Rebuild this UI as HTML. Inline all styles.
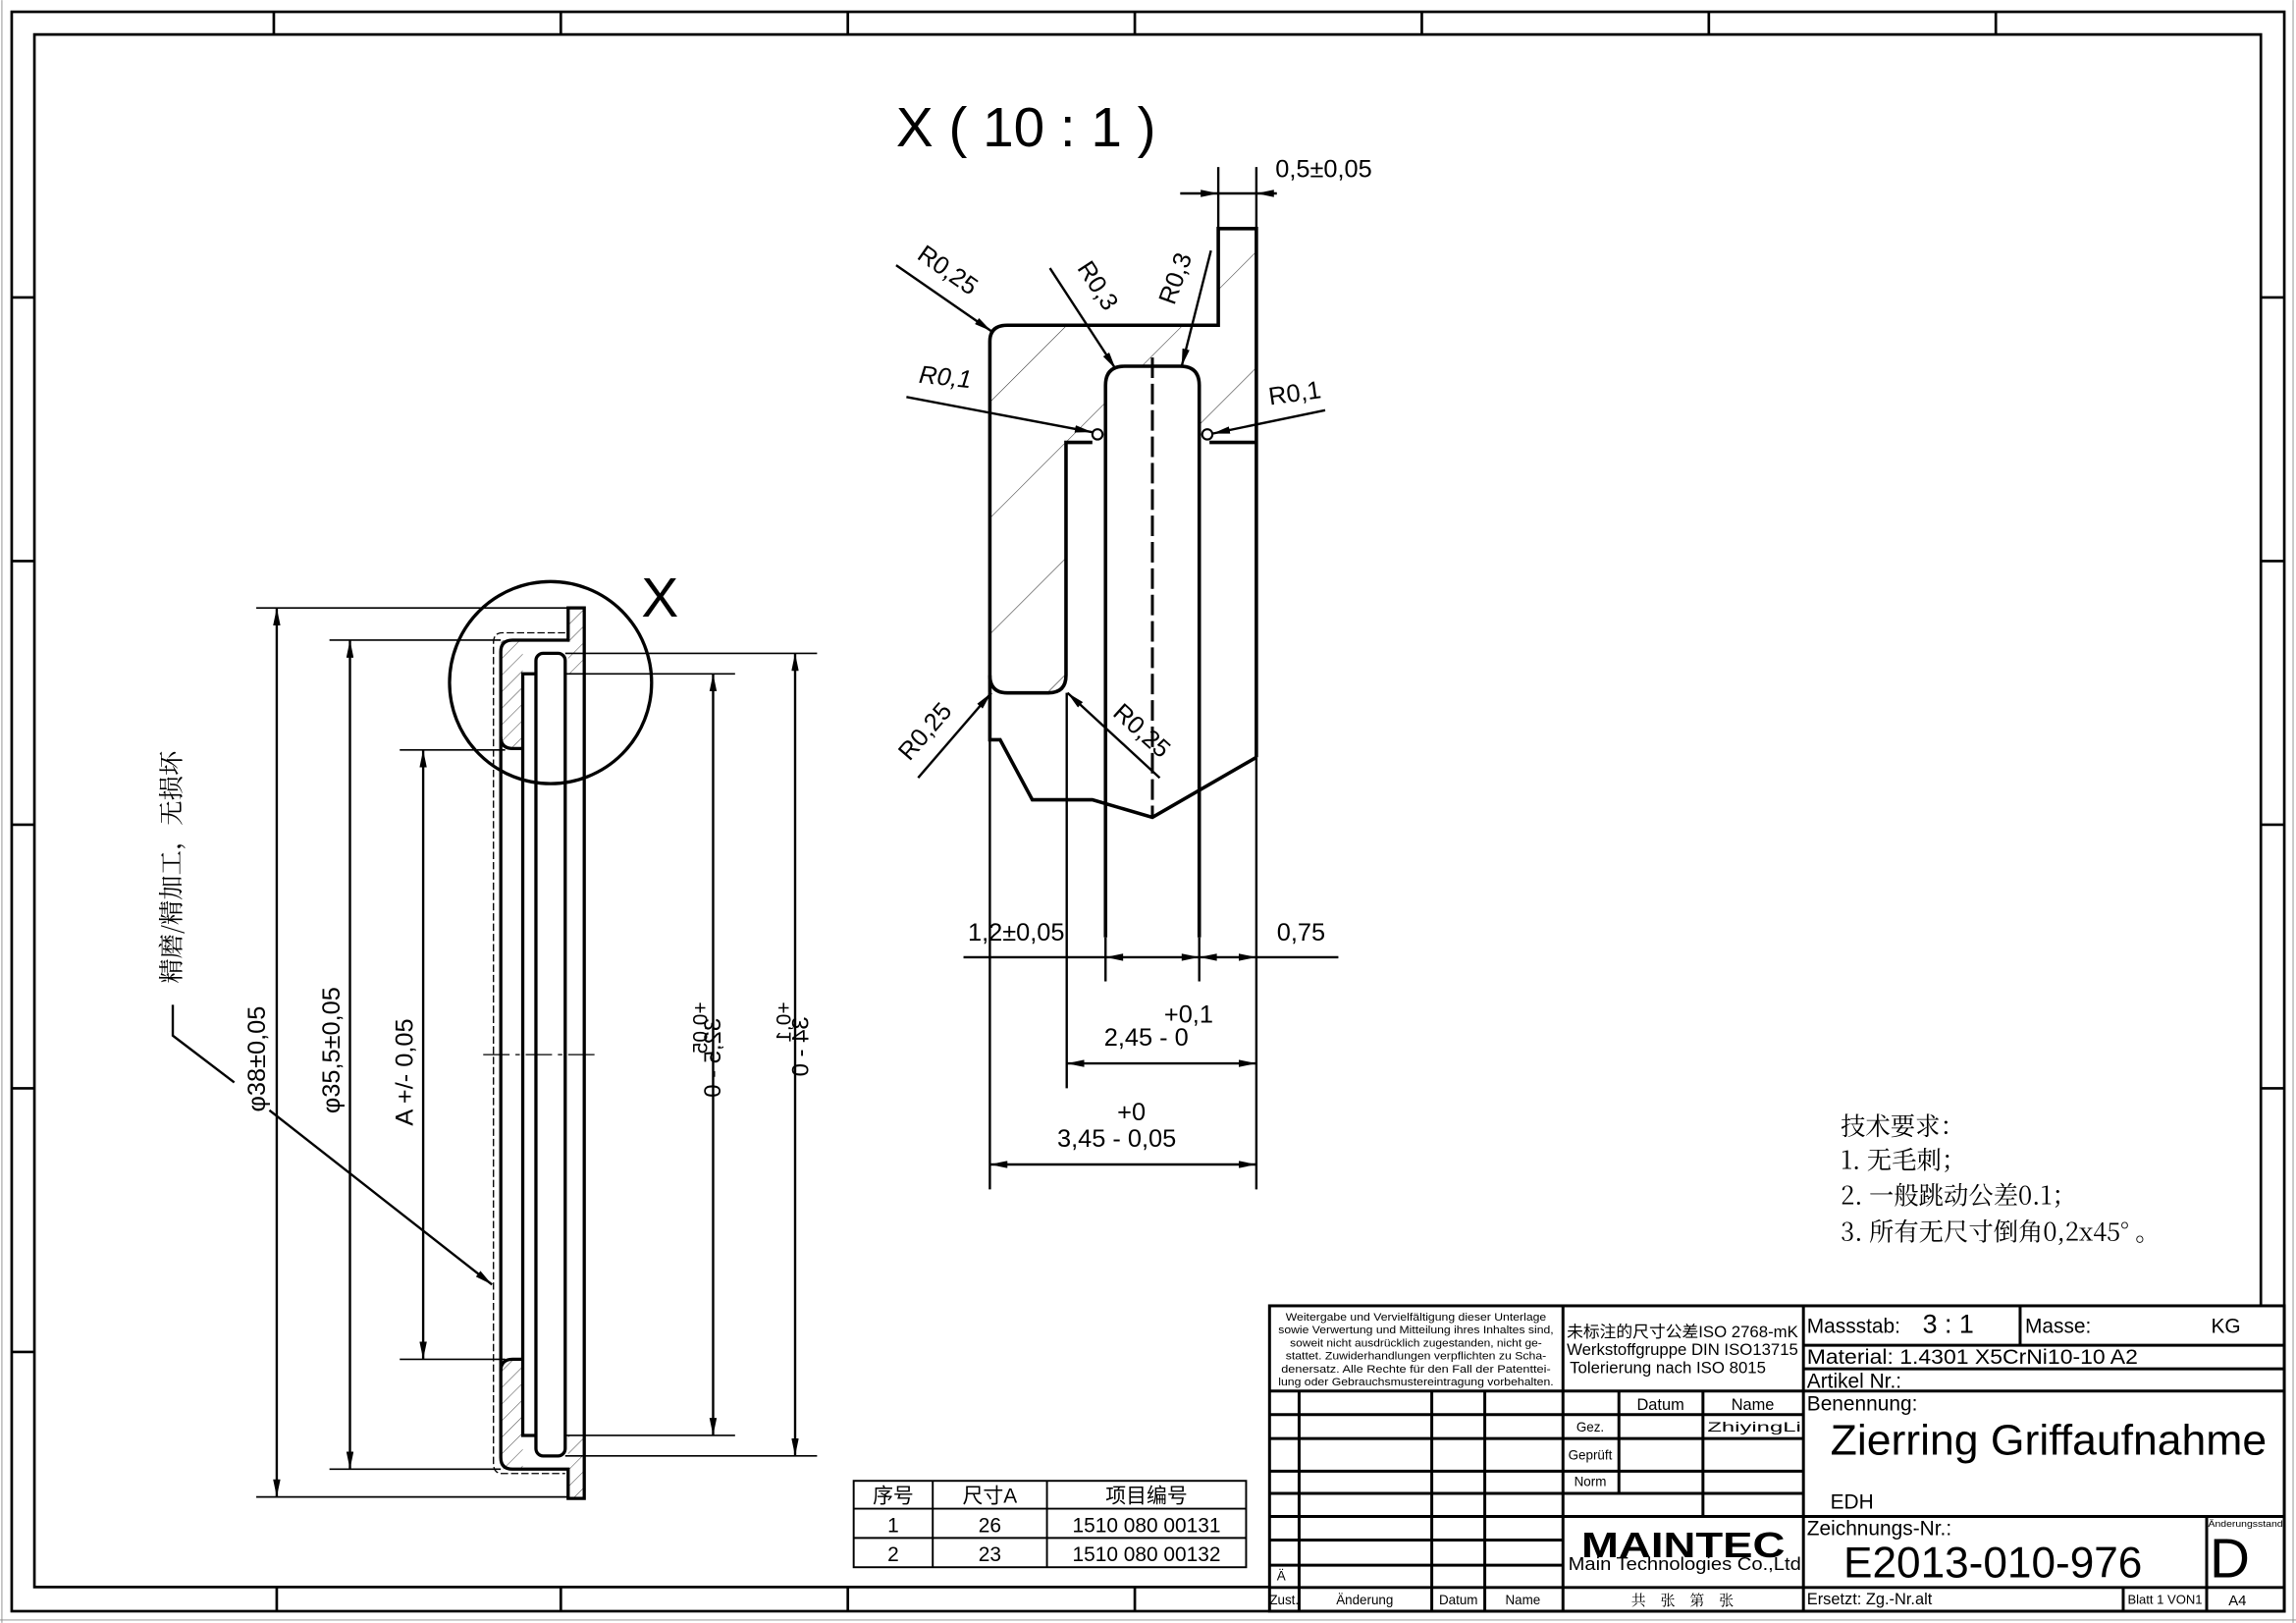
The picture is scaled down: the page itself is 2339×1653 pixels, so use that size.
<!DOCTYPE html>
<html><head><meta charset="utf-8"><style>
html,body{margin:0;padding:0;background:#fff}
svg{display:block}
text{font-family:"Liberation Sans","Noto Sans CJK SC",sans-serif;fill:#000}
.cjk{font-family:"Noto Serif CJK SC","Noto Sans CJK SC",serif}
</style></head><body>
<svg width="2339" height="1653" viewBox="0 0 1568 1108" xmlns="http://www.w3.org/2000/svg">
<defs>
<marker id="ar" viewBox="0 0 12 5" refX="12" refY="2.5" markerWidth="12" markerHeight="5" markerUnits="userSpaceOnUse" orient="auto-start-reverse"><path d="M0,0 L12,2.5 L0,5 z" fill="#000"/></marker>
<pattern id="hd" width="56" height="56" patternUnits="userSpaceOnUse" patternTransform="rotate(45)"><line x1="0" y1="0" x2="0" y2="56" stroke="#000" stroke-width="0.6"/></pattern>
<pattern id="hl" width="8" height="8" patternUnits="userSpaceOnUse" patternTransform="rotate(45)"><line x1="0" y1="0" x2="0" y2="8" stroke="#000" stroke-width="0.5"/></pattern>
</defs>
<rect width="1568" height="1108" fill="#fff"/>
<!-- page edges -->
<line x1="1.3" y1="0" x2="1.3" y2="1108" stroke="#888" stroke-width="0.6"/>
<line x1="1566" y1="0" x2="1566" y2="1108" stroke="#888" stroke-width="0.6"/>
<line x1="0" y1="1106" x2="1568" y2="1106" stroke="#888" stroke-width="0.6"/>
<!-- frames -->
<g fill="none" stroke="#000" stroke-width="1.8">
<rect x="8" y="8" width="1552" height="1092"/>
<path d="M1544,891 V23.5 H23.5 V1083.5 H867"/>
</g>
<g stroke="#000" stroke-width="1.8">
<line x1="8" y1="203" x2="23.5" y2="203"/><line x1="8" y1="383" x2="23.5" y2="383"/><line x1="8" y1="563" x2="23.5" y2="563"/><line x1="8" y1="743" x2="23.5" y2="743"/><line x1="8" y1="923" x2="23.5" y2="923"/>
<line x1="1544" y1="203" x2="1560" y2="203"/><line x1="1544" y1="383" x2="1560" y2="383"/><line x1="1544" y1="563" x2="1560" y2="563"/><line x1="1544" y1="743" x2="1560" y2="743"/>
<line x1="187" y1="8" x2="187" y2="23.5"/><line x1="383" y1="8" x2="383" y2="23.5"/><line x1="579" y1="8" x2="579" y2="23.5"/><line x1="775" y1="8" x2="775" y2="23.5"/><line x1="971" y1="8" x2="971" y2="23.5"/><line x1="1167" y1="8" x2="1167" y2="23.5"/><line x1="1363" y1="8" x2="1363" y2="23.5"/>
<line x1="189" y1="1083.5" x2="189" y2="1100"/><line x1="383" y1="1083.5" x2="383" y2="1100"/><line x1="579" y1="1083.5" x2="579" y2="1100"/><line x1="775" y1="1083.5" x2="775" y2="1100"/>
</g>

<!-- ===== LEFT VIEW ===== -->
<rect x="342" y="437" width="15" height="74" fill="url(#hl)"/>
<rect x="342" y="928" width="15" height="75" fill="url(#hl)"/>
<rect x="388" y="415" width="11" height="45" fill="url(#hl)"/>
<rect x="388" y="980" width="11" height="43" fill="url(#hl)"/>
<g fill="none" stroke="#000" stroke-width="2.2">
<path d="M388,415 H399 V1023 H388 V1003 H350 Q342,1003 342,995 V445 Q342,437 350,437 H388 Z"/>
<path d="M366,460 H357 V980 H366"/>
<path d="M342,503 Q342,511 350,511 H357"/>
<path d="M357,928 H350 Q342,928 342,936"/>
<rect x="366" y="446" width="20" height="548" rx="5"/>
<circle cx="376" cy="466" r="69"/>
</g>
<path d="M386,432 H343 Q337,432 337,439 V999 Q337,1006 343,1006 H386" fill="none" stroke="#000" stroke-width="0.9" stroke-dasharray="5,2"/>
<line x1="330" y1="720" x2="408" y2="720" stroke="#000" stroke-width="0.9" stroke-dasharray="18,4,3,4"/>
<text x="438" y="421" font-size="38">X</text>
<!-- left dims -->
<g stroke="#000" stroke-width="1.1" fill="none">
<line x1="175" y1="415" x2="388" y2="415"/><line x1="175" y1="1022" x2="388" y2="1022"/>
<line x1="225" y1="437" x2="342" y2="437"/><line x1="225" y1="1003" x2="342" y2="1003"/>
<line x1="273" y1="512" x2="345" y2="512"/><line x1="273" y1="928" x2="345" y2="928"/>
<line x1="386" y1="460" x2="502" y2="460"/><line x1="386" y1="980" x2="502" y2="980"/>
<line x1="386" y1="446" x2="558" y2="446"/><line x1="386" y1="994" x2="558" y2="994"/>
<line x1="189" y1="415" x2="189" y2="1022" marker-start="url(#ar)" marker-end="url(#ar)" stroke-width="1.6"/>
<line x1="239" y1="437" x2="239" y2="1003" marker-start="url(#ar)" marker-end="url(#ar)" stroke-width="1.6"/>
<line x1="289" y1="512" x2="289" y2="928" marker-start="url(#ar)" marker-end="url(#ar)" stroke-width="1.6"/>
<line x1="487" y1="460" x2="487" y2="980" marker-start="url(#ar)" marker-end="url(#ar)" stroke-width="1.6"/>
<line x1="543" y1="446" x2="543" y2="994" marker-start="url(#ar)" marker-end="url(#ar)" stroke-width="1.6"/>
<path d="M118,686 V707 L160,739" stroke-width="1.6"/>
<line x1="184" y1="758" x2="336" y2="877" marker-end="url(#ar)" stroke-width="1.6"/>
</g>
<text transform="translate(181,723) rotate(-90)" font-size="17" text-anchor="middle">φ38±0,05</text>
<text transform="translate(232,717) rotate(-90)" font-size="17" text-anchor="middle">φ35,5±0,05</text>
<text transform="translate(282,732) rotate(-90)" font-size="17" text-anchor="middle">A +/- 0,05</text>
<text class="cjk" transform="translate(123,592) rotate(-90)" font-size="17" text-anchor="middle">精磨/精加工，无损坏</text>
<text transform="translate(492,695) rotate(90) scale(1,-1)" font-size="16">32,5 - 0</text>
<text transform="translate(483,684) rotate(90) scale(1,-1)" font-size="14">+0,05</text>
<text transform="translate(552,694) rotate(90) scale(1,-1)" font-size="16">34 - 0</text>
<text transform="translate(540,684) rotate(90) scale(1,-1)" font-size="14">+0,1</text>

<!-- ===== DETAIL VIEW ===== -->
<text x="612" y="100" font-size="38">X ( 10 : 1 )</text>
<path d="M676,222 H832 V156 H858 V302 H819 V250 H755 V302 H728 V473 H676 Z" fill="url(#hd)"/>
<g fill="none" stroke="#000" stroke-width="2.4">
<path d="M676,473 V233 Q676,222 688,222 H832 V156 H858 V517"/>
<path d="M755,640 V263 Q755,250 768,250 H806 Q819,250 819,263 V640"/>
<path d="M746,302 H728 V461 Q728,473 716,473 H688 Q676,473 676,461"/>
<path d="M826,302 H858"/>
<path d="M676,473 V505 H683 L705,546 H746 L787,558 L858,517"/>
<circle cx="749.5" cy="296.5" r="3.5" stroke-width="1.4"/>
<circle cx="824.5" cy="296.5" r="3.5" stroke-width="1.4"/>
</g>
<line x1="787" y1="244" x2="787" y2="558" stroke="#000" stroke-width="2" stroke-dasharray="14,4"/>
<g stroke="#000" stroke-width="1.6" fill="none">
<line x1="676" y1="473" x2="676" y2="812"/>
<line x1="728.5" y1="473" x2="728.5" y2="743"/>
<line x1="755" y1="640" x2="755" y2="670"/>
<line x1="819" y1="640" x2="819" y2="670"/>
<line x1="858" y1="517" x2="858" y2="812"/>
<line x1="832" y1="114" x2="832" y2="156"/>
<line x1="858" y1="114" x2="858" y2="156"/>
<line x1="806" y1="132" x2="872" y2="132"/>
<line x1="658" y1="653.5" x2="914" y2="653.5"/>
<line x1="728.5" y1="726" x2="858" y2="726" marker-start="url(#ar)" marker-end="url(#ar)"/>
<line x1="676" y1="795" x2="858" y2="795" marker-start="url(#ar)" marker-end="url(#ar)"/>
<line x1="612" y1="181" x2="677" y2="226" marker-end="url(#ar)"/>
<line x1="717" y1="183" x2="762" y2="252" marker-end="url(#ar)"/>
<line x1="827" y1="171" x2="807" y2="250" marker-end="url(#ar)"/>
<line x1="619" y1="271" x2="746" y2="295" marker-end="url(#ar)"/>
<line x1="905" y1="280" x2="828" y2="296" marker-end="url(#ar)"/>
<line x1="627" y1="531" x2="677" y2="473" marker-end="url(#ar)"/>
<line x1="792" y1="531" x2="729" y2="473" marker-end="url(#ar)"/>
</g>
<g fill="#000">
<path d="M832,132 L820,129.5 L820,134.5 Z"/><path d="M858,132 L870,129.5 L870,134.5 Z"/>
<path d="M755,653.5 L767,651 L767,656 Z"/><path d="M819,653.5 L807,651 L807,656 Z"/>
<path d="M819,653.5 L831,651 L831,656 Z"/><path d="M858,653.5 L846,651 L846,656 Z"/>
</g>
<text x="871" y="121" font-size="17">0,5±0,05</text>
<text x="661" y="642" font-size="17">1,2±0,05</text>
<text x="872" y="642" font-size="17">0,75</text>
<text x="795" y="698" font-size="17">+0,1</text>
<text x="754" y="714" font-size="17">2,45 - 0</text>
<text x="763" y="765" font-size="17">+0</text>
<text x="722" y="783" font-size="17">3,45 - 0,05</text>
<g font-size="17" text-anchor="middle">
<text transform="translate(644,189) rotate(35)">R0,25</text>
<text transform="translate(745,198) rotate(57)">R0,3</text>
<text transform="translate(808,192) rotate(-70)">R0,3</text>
<text transform="translate(645,263) rotate(6)" font-style="italic">R0,1</text>
<text transform="translate(885,274) rotate(-8)">R0,1</text>
<text transform="translate(636,503) rotate(-49)">R0,25</text>
<text transform="translate(776,503) rotate(42)">R0,25</text>
</g>

<!-- notes -->
<g class="cjk" font-size="17">
<text class="cjk" x="1257" y="775">技术要求：</text>
<text class="cjk" x="1257" y="798">1. 无毛刺；</text>
<text class="cjk" x="1257" y="822">2. 一般跳动公差0.1；</text>
<text class="cjk" x="1257" y="847">3. 所有无尺寸倒角0,2x45° 。</text>
</g>

<!-- parts table -->
<g fill="none" stroke="#000" stroke-width="1.3">
<rect x="583" y="1011" width="268" height="59"/>
<line x1="583" y1="1030" x2="851" y2="1030"/><line x1="583" y1="1050" x2="851" y2="1050"/>
<line x1="637" y1="1011" x2="637" y2="1070"/><line x1="715" y1="1011" x2="715" y2="1070"/>
</g>
<g font-size="14" text-anchor="middle">
<text x="610" y="1026">序号</text><text x="676" y="1026">尺寸A</text><text x="783" y="1026">项目编号</text>
<text x="610" y="1046">1</text><text x="676" y="1046">26</text><text x="783" y="1046">1510 080 00131</text>
<text x="610" y="1066">2</text><text x="676" y="1066">23</text><text x="783" y="1066">1510 080 00132</text>
</g>

<!-- ===== TITLE BLOCK ===== -->
<g fill="none" stroke="#000" stroke-width="2">
<rect x="867" y="891.5" width="693" height="208.5"/>
<line x1="867" y1="949.7" x2="1560" y2="949.7"/>
<line x1="1231.6" y1="918.4" x2="1560" y2="918.4"/>
<line x1="1231.6" y1="934.5" x2="1560" y2="934.5"/>
<line x1="1379.6" y1="891.5" x2="1379.6" y2="918.4"/>
<line x1="1231.6" y1="891.5" x2="1231.6" y2="1100"/>
<line x1="1067.4" y1="891.5" x2="1067.4" y2="1100"/>
<line x1="887.2" y1="949.7" x2="887.2" y2="1100"/>
<line x1="977.8" y1="949.7" x2="977.8" y2="1100"/>
<line x1="1014" y1="949.7" x2="1014" y2="1100"/>
<line x1="1105.6" y1="949.7" x2="1105.6" y2="1019.6"/>
<line x1="1163" y1="949.7" x2="1163" y2="1035.3"/>
<line x1="867" y1="965.8" x2="1231.6" y2="965.8"/>
<line x1="867" y1="982.1" x2="1231.6" y2="982.1"/>
<line x1="867" y1="1004.4" x2="1231.6" y2="1004.4"/>
<line x1="867" y1="1019.6" x2="1231.6" y2="1019.6"/>
<line x1="867" y1="1035.3" x2="1560" y2="1035.3"/>
<line x1="867" y1="1051.4" x2="1067.4" y2="1051.4"/>
<line x1="867" y1="1068.6" x2="1067.4" y2="1068.6"/>
<line x1="867" y1="1083.8" x2="1560" y2="1083.8"/>
<line x1="1507" y1="1035.3" x2="1507" y2="1100"/>
<line x1="1450" y1="1083.8" x2="1450" y2="1100"/>
</g>
<g font-size="7.6" text-anchor="middle">
<text x="967" y="901.5" textLength="178" lengthAdjust="spacingAndGlyphs">Weitergabe und Vervielfältigung dieser Unterlage</text>
<text x="967" y="910.4" textLength="188" lengthAdjust="spacingAndGlyphs">sowie Verwertung und Mitteilung ihres Inhaltes sind,</text>
<text x="967" y="919.3" textLength="172" lengthAdjust="spacingAndGlyphs">soweit nicht ausdrücklich zugestanden, nicht ge-</text>
<text x="967" y="928.2" textLength="178" lengthAdjust="spacingAndGlyphs">stattet. Zuwiderhandlungen verpflichten zu Scha-</text>
<text x="967" y="937.1" textLength="184" lengthAdjust="spacingAndGlyphs">denersatz. Alle Rechte für den Fall der Patenttei-</text>
<text x="967" y="946" textLength="188" lengthAdjust="spacingAndGlyphs">lung oder Gebrauchsmustereintragung vorbehalten.</text>
</g>
<g font-size="11">
<text x="1070" y="913" textLength="158" lengthAdjust="spacingAndGlyphs">未标注的尺寸公差ISO 2768-mK</text>
<text x="1070" y="925" textLength="158" lengthAdjust="spacingAndGlyphs">Werkstoffgruppe DIN ISO13715</text>
<text x="1072" y="937.5" textLength="134" lengthAdjust="spacingAndGlyphs">Tolerierung nach ISO 8015</text>
</g>
<text x="1234" y="910" font-size="14">Massstab:</text>
<text x="1313" y="910" font-size="18">3 : 1</text>
<text x="1383" y="910" font-size="14">Masse:</text>
<text x="1510" y="910" font-size="14">KG</text>
<text x="1234" y="931" font-size="14" textLength="226" lengthAdjust="spacingAndGlyphs">Material:  1.4301 X5CrNi10-10 A2</text>
<text x="1234" y="947.5" font-size="14">Artikel Nr.:</text>
<text x="1234" y="963" font-size="14">Benennung:</text>
<text x="1250" y="993" font-size="29" textLength="298" lengthAdjust="spacingAndGlyphs">Zierring Griffaufnahme</text>
<text x="1250" y="1030" font-size="14">EDH</text>
<text x="1234" y="1048" font-size="14">Zeichnungs-Nr.:</text>
<text x="1259" y="1077" font-size="30" textLength="204" lengthAdjust="spacingAndGlyphs">E2013-010-976</text>
<text x="1508" y="1042.5" font-size="6" textLength="51" lengthAdjust="spacingAndGlyphs">Änderungsstand</text>
<text x="1509" y="1077" font-size="38">D</text>
<text x="1234" y="1095.5" font-size="11">Ersetzt: Zg.-Nr.alt</text>
<text x="1453" y="1095" font-size="8.5" textLength="51" lengthAdjust="spacingAndGlyphs">Blatt 1 VON1</text>
<text x="1528" y="1096" font-size="10" text-anchor="middle">A4</text>
<text x="1149" y="1096" font-size="10" text-anchor="middle" class="cjk">共　张　第　张</text>
<g font-size="9" text-anchor="middle">
<text x="877" y="1095.5">Zust.</text>
<text x="932" y="1095.5">Änderung</text>
<text x="996" y="1095.5">Datum</text>
<text x="1040" y="1095.5">Name</text>
<text x="1134" y="962.5" font-size="11">Datum</text>
<text x="1197" y="962.5" font-size="11">Name</text>
<text x="1086" y="977.5">Gez.</text>
<text x="1086" y="996.5">Geprüft</text>
<text x="1086" y="1014.5">Norm</text>
<text x="1198" y="977.5" font-family="Liberation Mono" textLength="64" lengthAdjust="spacingAndGlyphs">ZhiyingLi</text>
</g>
<text x="872" y="1079" font-size="9">Ä</text>
<text x="1080" y="1063" font-size="24" font-weight="bold" textLength="139" lengthAdjust="spacingAndGlyphs">MAINTEC</text>
<text x="1071" y="1072" font-size="12.5" textLength="159" lengthAdjust="spacingAndGlyphs">Main Technologies Co.,Ltd</text>
</svg>
</body></html>
